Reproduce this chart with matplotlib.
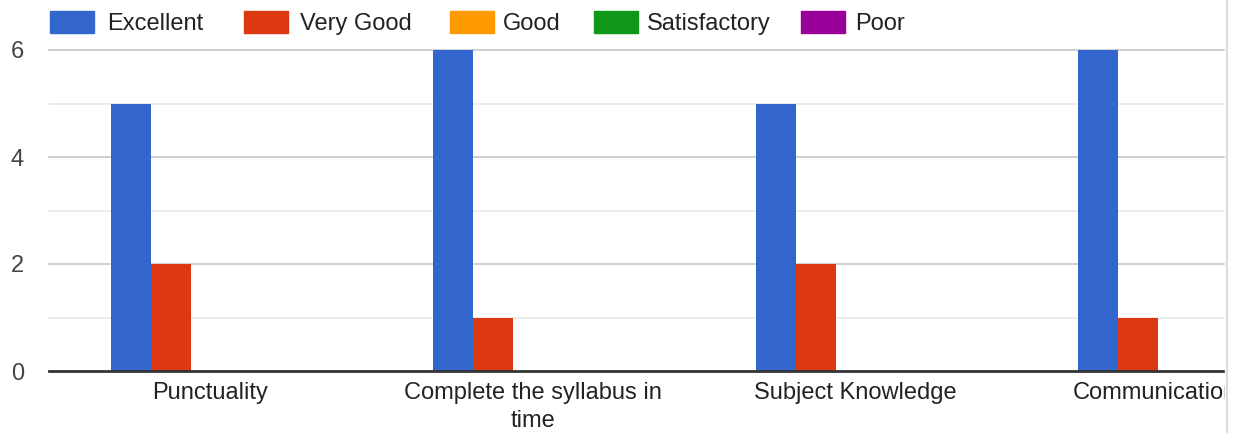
import numpy as np
import matplotlib.pyplot as plt
from matplotlib.patches import Rectangle
from matplotlib.lines import Line2D
from matplotlib.transforms import ScaledTranslation

plt.rcParams['font.family'] = ['Liberation Sans', 'DejaVu Sans']

# data
categories = ['Punctuality', 'Complete the syllabus in\ntime', 'Subject Knowledge', 'Communication']
series = ['Excellent', 'Very Good', 'Good', 'Satisfactory', 'Poor']
excellent = [5, 6, 5, 6]
very_good = [2, 1, 2, 1]
good = [0, 0, 0, 0]
satisfactory = [0, 0, 0, 0]
poor = [0, 0, 0, 0]
colors = ['#3366cc', '#dc3912', '#ff9900', '#109618', '#990099']

W, H = 1236, 433
fig = plt.figure(figsize=(W / 100, H / 100), dpi=100)
ax = fig.add_axes([49 / W, (H - 371) / H, (1225 - 49) / W, (371 - 50) / H])

values = [excellent, very_good, good, satisfactory, poor]
x = np.arange(len(categories))
bw = 40 / 322.5
for i, (name, vals) in enumerate(zip(series, values)):
    ax.bar(x + (i - 2) * bw + 0.002, vals, width=bw, color=colors[i], label=name, zorder=3)

ax.set_xlim(-0.5, (1225 - 49) / 322.5 - 0.5)
ax.set_ylim(0, 6)

# gridlines
for y in [1, 3, 5]:
    ax.axhline(y, color='#ebebeb', lw=1.3, zorder=1, clip_on=False)
for y in [2, 4, 6]:
    ax.axhline(y, color='#cccccc', lw=1.3, zorder=1, clip_on=False)
ax.axhline(0, color='#333333', lw=2.0, zorder=4, clip_on=False)

for s in ax.spines.values():
    s.set_visible(False)
ax.set_yticks([0, 2, 4, 6])
ax.set_yticklabels(['0', '2', '4', '6'], fontsize=17, color='#444444')
ax.tick_params(axis='y', length=0, pad=18)
ax.set_xticks(x)
ax.set_xticklabels(categories, fontsize=17, color='#222222', linespacing=1.35)
ax.tick_params(axis='x', length=0, pad=8)

# the last label is pushed left a bit, as in the original
last = ax.get_xticklabels()[-1]
last.set_transform(last.get_transform() + ScaledTranslation(-0.23, 0, fig.dpi_scale_trans))


def fx(px):
    return px / W


def fy(py):
    return 1 - py / H


# legend drawn across the top
legend_pos = [(50, 107), (244, 300), (450, 503), (594, 647), (801, 855)]
for (bx, tx), name, c in zip(legend_pos, series, colors):
    fig.add_artist(Rectangle((fx(bx), fy(33)), 44 / W, 22 / H, color=c,
                             transform=fig.transFigure))
    fig.text(fx(tx), fy(30), name, fontsize=17, color='#222222', va='baseline', ha='left')

# right edge of the visible panel
fig.add_artist(Rectangle((fx(1225), 0), 11 / W, 1, color='white',
                         transform=fig.transFigure, zorder=10))
fig.add_artist(Line2D([fx(1227), fx(1227)], [0, 1], color='#dadce0', lw=1.5,
                      transform=fig.transFigure, zorder=11))

fig.savefig('out.png', dpi=100)
